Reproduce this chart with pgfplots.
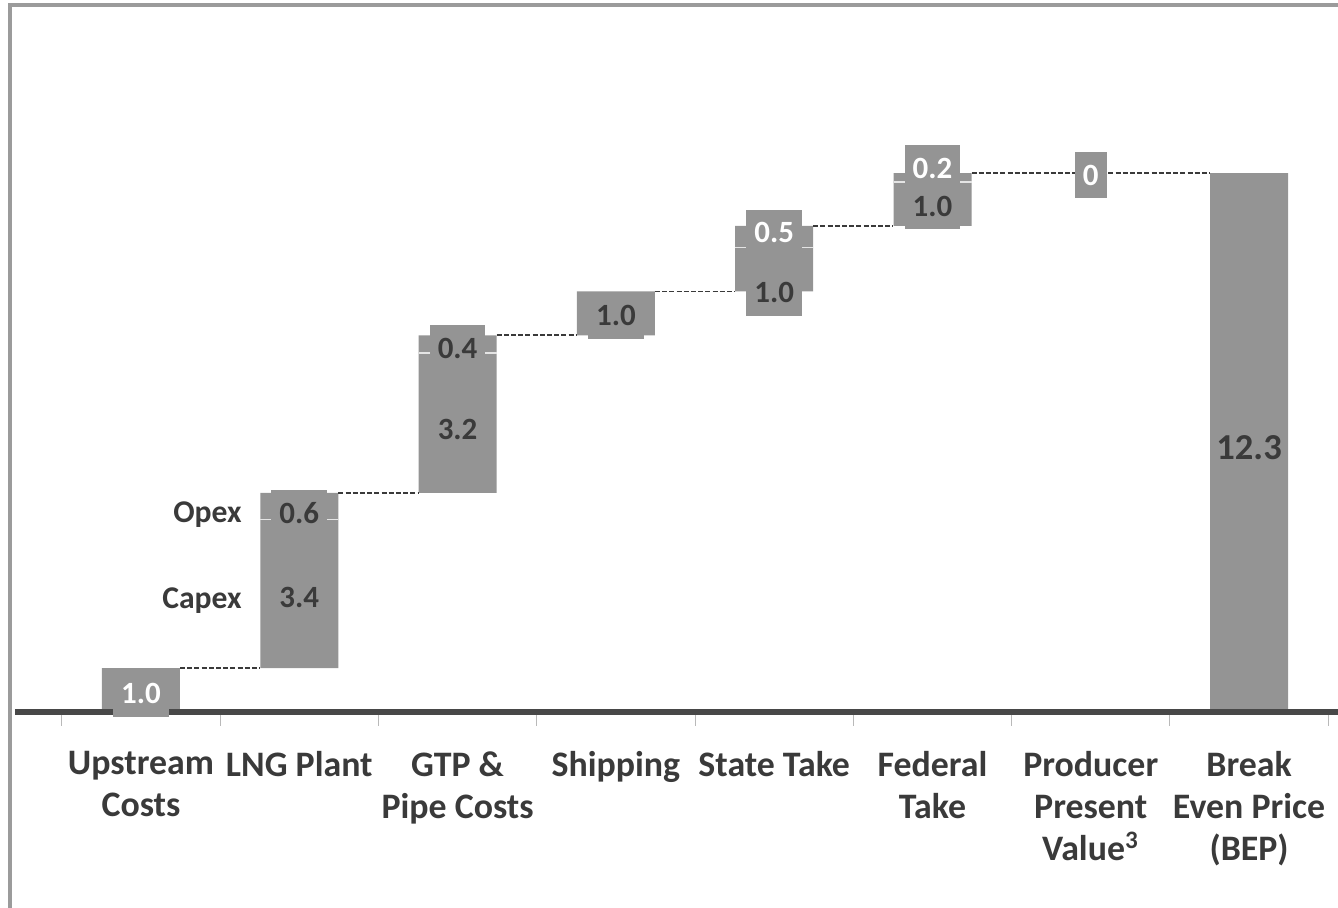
\documentclass[border=0pt]{standalone}
\usepackage{pgfplots}
\pgfplotsset{compat=1.18}
\usepackage{pgfplotstable}
\usepackage{fontspec}
\setmainfont{Carlito}

\definecolor{barfill}{RGB}{148,148,148}
\definecolor{labeldark}{RGB}{58,58,58}
\definecolor{axisdark}{RGB}{72,72,72}
\definecolor{framegray}{RGB}{155,155,155}
\definecolor{tickgray}{RGB}{185,185,185}

% Waterfall segments: invisible base, lower part, upper part
\pgfplotstableread{
x base lower upper
0 0    1.0  0
1 1.0  3.4  0.6
2 5.0  3.2  0.4
3 8.6  1.0  0
4 9.6  1.0  0.5
5 11.1 1.0  0.2
6 12.3 0    0
7 0    12.3 0
}\segments

% Running totals joining neighbouring bars
\pgfplotstableread{
x y
0.2464 1.0
0.7536 1.0
nan nan
1.2464 5.0
1.7536 5.0
nan nan
2.2464 8.6
2.7536 8.6
nan nan
3.2464 9.6
3.7536 9.6
nan nan
4.2464 11.1
4.7536 11.1
nan nan
5.2464 12.3
6.7536 12.3
}\connectors

% Value labels and the height at which each one sits
\pgfplotstableread{
x ly lab
1 2.62 3.4
1 4.54 0.6
2 6.46 3.2
2 8.30 0.4
3 9.05 1.0
4 9.57 1.0
5 11.55 1.0
}\darklabels
\pgfplotstableread{
x ly lab
0 0.42 1.0
4 10.94 0.5
5 12.42 0.2
6 12.25 0
}\lightlabels
\pgfplotstableread{
x ly lab
7 6.03 12.3
}\totallabel

\pgfplotsset{
  segbar/.style={ybar stacked, bar width=0.78cm, bar shift=0pt, draw=none},
  valbox/.style={draw=none, mark=none, nodes near coords, point meta=explicit symbolic,
    every node near coord/.append style={anchor=center, fill=barfill,
      inner xsep=0.08cm, inner ysep=0pt, minimum height=0.46cm}},
}

\begin{document}
\begin{tikzpicture}
\begin{axis}[
  scale only axis, width=13.38cm, height=9.08cm,
  xmin=-0.8907, xmax=7.5616, ymin=-4.475, ymax=16.256,
  clip=false,
  axis x line=middle, axis y line=none,
  x axis line style={draw=none},
  xtick={0,...,7},
  xticklabels={Upstream\\Costs, LNG Plant, GTP \&\\Pipe Costs, Shipping, State Take,
    Federal\\Take, Producer\\Present\\Value\textsuperscript{3}, Break\\Even Price\\(BEP)},
  major tick length=0pt,
  minor xtick={-0.5,0.5,...,7.5},
  minor tick length=0.14cm,
  tick align=outside,
  minor tick style={tickgray, line width=0.01cm},
  xticklabel style={font=\fontsize{10.2}{12}\selectfont\bfseries, align=center,
    text=labeldark, anchor=north, yshift=-0.27cm},
  unbounded coords=jump,
]
% stacked segments
\addplot [segbar, fill=none, forget plot] table [x=x, y=base] {\segments};
\addplot [segbar, fill=barfill] table [x=x, y=lower] {\segments};
\addplot [segbar, fill=barfill] table [x=x, y=upper] {\segments};

% light seam between the two parts of a split bar
\addplot [only marks, mark=-, mark size=0.39cm,
  mark options={draw=white!75!barfill, line width=0.015cm},
  restrict expr to domain={\thisrow{upper}}{0.01:100}]
  table [x=x, y expr={\thisrow{base}+\thisrow{lower}}] {\segments};

% dashed running-total connectors
\addplot [labeldark, line width=0.019cm, dash pattern=on 0.05cm off 0.022cm]
  table [x=x, y=y] {\connectors};

% value labels
\addplot [valbox, every node near coord/.append style={text=labeldark,
    font=\fontsize{8.8}{10}\selectfont\bfseries}]
  table [x=x, y=ly, meta=lab] {\darklabels};
\addplot [valbox, every node near coord/.append style={text=white,
    font=\fontsize{8.8}{10}\selectfont\bfseries}]
  table [x=x, y=ly, meta=lab] {\lightlabels};
\addplot [valbox, every node near coord/.append style={text=labeldark,
    inner xsep=0.02cm, font=\fontsize{10.4}{12}\selectfont\bfseries}]
  table [x=x, y=ly, meta=lab] {\totallabel};

% baseline
\addplot [axisdark, line width=0.06cm] coordinates {(-0.796,0) (7.5616,0)};

\node [anchor=east, inner xsep=0pt, font=\fontsize{9}{10}\selectfont\bfseries, text=labeldark]
  at (axis cs:0.64,4.5) {Opex};
\node [anchor=east, inner xsep=0pt, font=\fontsize{9}{10}\selectfont\bfseries, text=labeldark]
  at (axis cs:0.64,2.54) {Capex};

% outer frame
\draw [framegray, line width=0.04cm] (axis cs:-0.8276,-4.6) |- (axis cs:7.7,16.14);
\end{axis}
\pgfresetboundingbox
\path [use as bounding box] (current axis.south west) rectangle (current axis.north east);
\end{tikzpicture}
\end{document}
